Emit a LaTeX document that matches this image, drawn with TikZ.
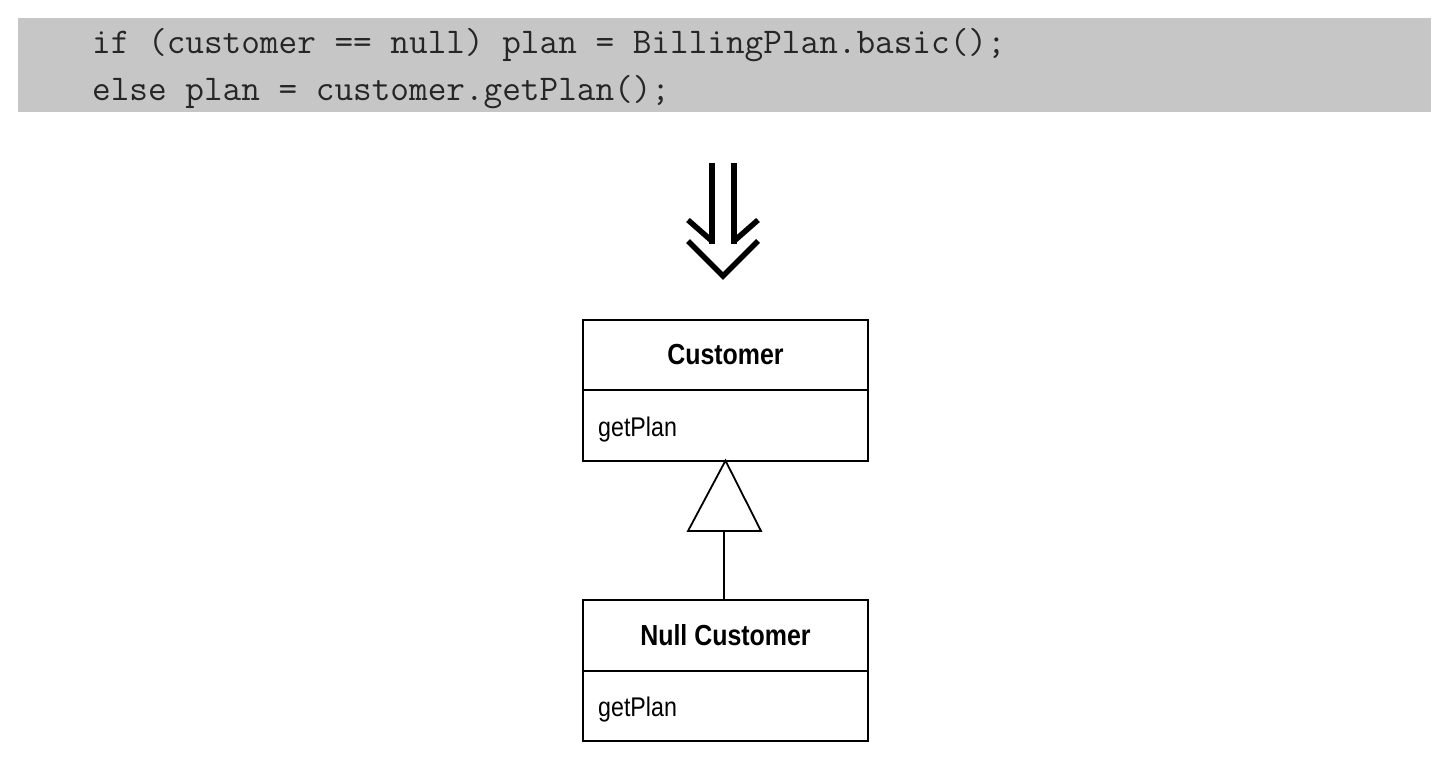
\documentclass[tikz,border=0pt]{standalone}
\usepackage{fontspec}
\newfontfamily\umlfont[FakeStretch=0.86]{Liberation Sans}
\begin{document}
\begin{tikzpicture}[x=1pt,y=-1pt,
  codeline/.style={anchor=base west,inner sep=0pt,font=\fontsize{36.2}{36.2}\selectfont\ttfamily,text=black!85},
  boxline/.style={line width=1.8pt},
  arrowline/.style={line width=5.5pt,line cap=butt,line join=miter},
  compart/.style={minimum width=285pt,inner sep=0pt},
  titletext/.style={inner sep=0pt,font=\umlfont\bfseries\fontsize{29}{29}\selectfont},
  optext/.style={anchor=base west,inner sep=0pt,font=\umlfont\fontsize{27}{27}\selectfont}]
\useasboundingbox (0,0) rectangle (1452,758);
\fill[white] (0,0) rectangle (1452,758);
% code band
\fill[gray!45] (18,18) rectangle (1431,112);
\node[codeline] (c1) at (92,53) {if (customer == null) plan = BillingPlan.basic();};
\node[codeline] (c2) at (92,100) {else plan = customer.getPlan();};
% double arrow
\draw[arrowline] (712,163) -- (712,244);
\draw[arrowline] (734,163) -- (734,244);
\draw[arrowline] (688,220) -- (713,242);
\draw[arrowline] (758,220) -- (733,242);
\draw[arrowline] (688,241) -- (723,276) -- (758,241);
% Customer class
\node[compart,minimum height=70pt] (cust) at (725.5,355) {};
\node[compart,minimum height=70pt,anchor=north] (custops) at (cust.south) {};
\draw[boxline] (cust.north west) rectangle (custops.south east);
\draw[boxline] (cust.south west) -- (cust.south east);
\node[titletext] (custname) at (cust.center) {Customer};
\node[optext] (custop) at (598,436) {getPlan};
% Null Customer class
\node[compart,minimum height=71pt] (null) at (725.5,635.5) {};
\node[compart,minimum height=69pt,anchor=north] (nullops) at (null.south) {};
\draw[boxline] (null.north west) rectangle (nullops.south east);
\draw[boxline] (null.south west) -- (null.south east);
\node[titletext] (nullname) at (null.center) {Null Customer};
\node[optext] (nullop) at (598,716) {getPlan};
% generalization
\coordinate (tribase) at (724,531);
\draw[boxline] (null.north -| tribase) -- (tribase);
\draw[boxline,fill=white,line join=miter] (tribase) -- (688,531) -- (custops.south) -- (761,531) -- cycle;
\end{tikzpicture}
\end{document}
